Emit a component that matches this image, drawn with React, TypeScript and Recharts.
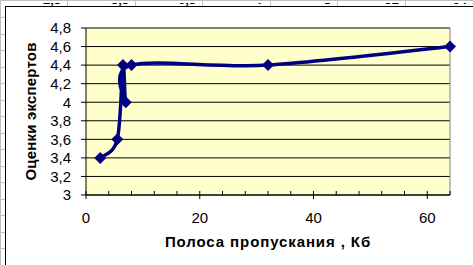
import React from 'react';
import { LineChart, CartesianGrid, XAxis, YAxis, Line, Label, ReferenceLine } from 'recharts';

// bandwidth, Kb
const bandwidth = [2.5, 5.5, 6.5, 7, 8, 32, 64];
// expert scores
const scores = [3.4, 3.6, 4.4, 4.0, 4.4, 4.4, 4.6];

const xTicks = [0, 4, 8, 12, 16, 20, 24, 28, 32, 36, 40, 44, 48, 52, 56, 60, 64];
const xLabelled = [0, 20, 40, 60];
const yTicks = [3, 3.2, 3.4, 3.6, 3.8, 4, 4.2, 4.4, 4.6, 4.8];

// the sheet row behind the chart (only the bottom of it shows)
const sheetRow = ['2,5', '5,5', '6,5', '7', '8', '32', '64'];

const data = bandwidth.map((x, i) => ({ x, score: scores[i] }));

const font = "'Liberation Sans', Arial, sans-serif";
const navy = '#000080';

const fmt = (v: number) => String(v).replace('.', ',');

// Excel style smoothed line (uniform Catmull-Rom, 1/6 control points)
const excelSmooth = (context: any) => {
  let pts: number[][] = [];
  return {
    areaStart() {},
    areaEnd() {},
    lineStart() {
      pts = [];
    },
    point(x: number, y: number) {
      pts.push([+x, +y]);
    },
    lineEnd() {
      if (!pts.length) return;
      context.moveTo(pts[0][0], pts[0][1]);
      for (let i = 0; i < pts.length - 1; i++) {
        const p0 = pts[i - 1] || pts[i];
        const p1 = pts[i];
        const p2 = pts[i + 1];
        const p3 = pts[i + 2] || p2;
        context.bezierCurveTo(
          p1[0] + (p2[0] - p0[0]) / 6,
          p1[1] + (p2[1] - p0[1]) / 6,
          p2[0] - (p3[0] - p1[0]) / 6,
          p2[1] - (p3[1] - p1[1]) / 6,
          p2[0],
          p2[1]
        );
      }
    },
  };
};

const Diamond = (props: any) => {
  const { cx, cy } = props;
  if (cx == null || cy == null) return null;
  const r = 6;
  return (
    <polygon
      points={`${cx},${cy - r} ${cx + r},${cy} ${cx},${cy + r} ${cx - r},${cy}`}
      fill={navy}
    />
  );
};

const XTick = (props: any) => {
  const { x, y, payload } = props;
  const major = xLabelled.includes(payload.value);
  return (
    <g>
      <line x1={x} x2={x} y1={y - 4} y2={major ? y + 4 : y} stroke="#000" />
      {major && (
        <text x={x} y={y + 28} textAnchor="middle" fontSize={15} fill="#000" fontFamily={font}>
          {payload.value}
        </text>
      )}
    </g>
  );
};

const cellEdges = [0, 67, 135, 202, 270, 337, 405, 473];
const leftRows = [17, 33.5, 50, 66.5, 83, 99.5, 116, 132.5, 149, 165.5, 182, 198.5, 215, 231.5, 248];

const Sheet = () => (
  <>
    <div style={{ position: 'absolute', left: 0, top: 0, width: 473, height: 1, background: '#c0c0c0' }} />
    {cellEdges.slice(1, -1).map((e) => (
      <div key={e} style={{ position: 'absolute', left: e, top: 0, width: 1, height: 6, background: '#c0c0c0' }} />
    ))}
    <div style={{ position: 'absolute', left: 0, top: 3, width: 473, height: 3, overflow: 'hidden' }}>
      {sheetRow.map((t, i) => (
        <div
          key={i}
          style={{
            position: 'absolute',
            left: cellEdges[i],
            width: cellEdges[i + 1] - cellEdges[i] - 6,
            top: -9,
            textAlign: 'right',
            fontFamily: font,
            fontWeight: 'bold',
            fontSize: 13,
            lineHeight: '12px',
          }}
        >
          {t}
        </div>
      ))}
    </div>
    <div style={{ position: 'absolute', left: 0, top: 0, width: 1, height: 265, background: '#c0c0c0' }} />
    {leftRows.map((r) => (
      <div key={r} style={{ position: 'absolute', left: 0, top: Math.round(r), width: 5, height: 1, background: '#c0c0c0' }} />
    ))}
    <div
      style={{
        position: 'absolute',
        left: 5,
        top: 6,
        width: 480,
        height: 270,
        background: '#fff',
        border: '1px solid #000',
      }}
    />
  </>
);

export default function App() {
  return (
    <div style={{ position: 'fixed', left: 0, top: 0, width: 473, height: 265, overflow: 'hidden', background: '#fff' }}>
      <Sheet />
      <div style={{ position: 'absolute', left: 0, top: 0 }}>
        <LineChart
          width={473}
          height={265}
          data={data}
          margin={{ top: 28, right: 23, left: 26, bottom: 40 }}
          style={{ fontFamily: font }}
        >
          <CartesianGrid vertical={false} stroke="#000" fill="#FFFFCC" fillOpacity={1} />
          <XAxis
            dataKey="x"
            type="number"
            domain={[0, 64]}
            ticks={xTicks}
            interval={0}
            height={30}
            tickSize={0}
            tickMargin={0}
            tickLine={false}
            axisLine={{ stroke: '#000' }}
            tick={<XTick />}
          >
            <Label
              value="Полоса пропускания , Кб"
              position="bottom"
              offset={11}
              style={{ fontWeight: 'bold', fontSize: 15, letterSpacing: 0.9, fill: '#000', fontFamily: font }}
            />
          </XAxis>
          <YAxis
            type="number"
            domain={[3, 4.8]}
            ticks={yTicks}
            interval={0}
            width={60}
            tickSize={5}
            tickMargin={10}
            tickFormatter={fmt}
            tick={{ fill: '#000', fontSize: 15, fontFamily: font }}
            tickLine={{ stroke: '#000' }}
            axisLine={{ stroke: '#000' }}
          >
            <Label
              value="Оценки экспертов"
              angle={-90}
              position="insideLeft"
              offset={5}
              style={{ textAnchor: 'middle', fontWeight: 'bold', fontSize: 15, letterSpacing: 0.2, fill: '#000', fontFamily: font }}
            />
          </YAxis>
          <ReferenceLine y={4.8} stroke="#808080" />
          <ReferenceLine x={64} stroke="#808080" />
          <Line
            type={excelSmooth as any}
            dataKey="score"
            stroke={navy}
            strokeWidth={3.5}
            dot={<Diamond />}
            activeDot={false}
            isAnimationActive={false}
          />
        </LineChart>
      </div>
    </div>
  );
}
